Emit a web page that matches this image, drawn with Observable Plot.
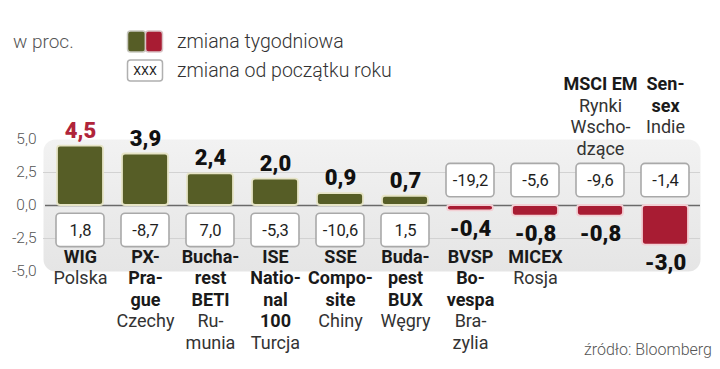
<!DOCTYPE html>
<html>
<head>
<meta charset="utf-8">
<script src="https://cdn.jsdelivr.net/npm/d3@7"></script>
<script src="https://cdn.jsdelivr.net/npm/@observablehq/plot@0.6"></script>
<style>
  html, body { margin: 0; padding: 0; background: #fff; }
  #wrap { position: relative; width: 720px; height: 369px; font-family: Roboto, sans-serif; overflow: hidden; }
  #wrap svg.plot { position: absolute; left: 0; top: 0; }
  .lg { position: absolute; white-space: nowrap; line-height: 1; }
</style>
</head>
<body>
<div id="wrap"></div>
<script>
// ---- data ----
const ids = ["WIG", "PX", "BETI", "ISE", "SSE", "BUX", "BVSP", "MICEX", "MSCI", "SENSEX"];
const nameLines = ["WIG", "PX-|Pra-|gue", "Bucha-|rest|BETI", "ISE|Natio-|nal|100", "SSE|Compo-|site", "Buda-|pest|BUX", "BVSP|Bo-|vespa", "MICEX", "MSCI EM", "Sen-|sex"];
const countryLines = ["Polska", "Czechy", "Ru-|munia", "Turcja", "Chiny", "Węgry", "Bra-|zylia", "Rosja", "Rynki|Wscho-|dzące", "Indie"];
const labelAbove = [false, false, false, false, false, false, false, false, true, true];
const weekly = [4.5, 3.9, 2.4, 2.0, 0.9, 0.7, -0.4, -0.8, -0.8, -3.0];
const ytd = [1.8, -8.7, 7.0, -5.3, -10.6, 1.5, -19.2, -5.6, -9.6, -1.4];
const highlightId = "WIG";
const yTicks = [5, 2.5, 0, -2.5, -5];
const gridValues = [2.5, -2.5];

// ---- styling ----
const green = "#565d26", red = "#a81c33", hlRed = "#b0243a";
const fmt = v => v.toFixed(1).replace(".", ",");
const boxNear = 0.62, boxFar = 3.15;

const rows = ids.map((id, i) => ({id, week: weekly[i], ytd: ytd[i]}));
const pos = rows.filter(d => d.week > 0);
const neg = rows.filter(d => d.week <= 0);
const lines = ids.flatMap((id, i) => {
  const b = nameLines[i].split("|").map(t => ({t, bold: true}));
  const c = countryLines[i].split("|").map(t => ({t, bold: false}));
  return [...b, ...c].map((l, r) => ({id, text: l.t, bold: l.bold, row: r, above: labelAbove[i]}));
});

const labelMarks = [];
for (const above of [false, true]) {
  for (const bold of [true, false]) {
    for (let r = 0; r < 6; r++) {
      const data = lines.filter(l => l.above === above && l.bold === bold && l.row === r);
      if (!data.length) continue;
      labelMarks.push(Plot.text(data, {
        x: "id", text: "text",
        frameAnchor: above ? "top" : "bottom",
        dy: above ? -62 + r * 21.5 : -9 + r * 21.5,
        fontSize: 18,
        fontWeight: bold ? "bold" : "normal",
        fill: bold ? "#1a1a1a" : "#333"
      }));
    }
  }
}

const chart = Plot.plot({
  width: 720,
  height: 369,
  marginLeft: 43,
  marginRight: 20,
  marginTop: 139,
  marginBottom: 98,
  style: {fontFamily: "Roboto, sans-serif", background: "transparent", overflow: "visible"},
  x: {type: "band", domain: ids, range: [45.3, 699.3], paddingInner: 0.3, paddingOuter: 0.15, axis: null},
  y: {domain: [-5, 5], range: [271, 139], axis: null},
  marks: [
    Plot.frame({fill: "url(#panelGrad)", stroke: "none", rx: 12}),
    Plot.ruleY(gridValues, {stroke: "#d2d2d2", strokeWidth: 1}),
    Plot.ruleY([0], {stroke: "#6a6a6a", strokeWidth: 1.3, insetLeft: 2}),
    Plot.axisY(yTicks, {anchor: "left", tickSize: 0, tickPadding: 7, tickFormat: fmt, fontSize: 15.5, fontWeight: 300, fill: "#555", label: null}),
    // weekly bars
    Plot.barY(pos, {x: "id", y: "week", fill: green, stroke: "#e6e4c6", strokeWidth: 1.8, rx: 3}),
    Plot.barY(neg, {x: "id", y: "week", fill: red, stroke: "#f2cfd4", strokeWidth: 1.8, rx: 3}),
    // year-to-date boxes
    Plot.barY(rows, {
      x: "id",
      y1: d => d.week > 0 ? -boxNear : boxNear,
      y2: d => d.week > 0 ? -boxFar : boxFar,
      fill: "#fff", stroke: "#a9a9a9", strokeWidth: 1.6, rx: 4, insetLeft: -1, insetRight: -1
    }),
    Plot.text(rows, {
      x: "id",
      y: d => d.week > 0 ? -(boxNear + boxFar) / 2 : (boxNear + boxFar) / 2,
      text: d => fmt(d.ytd),
      fontSize: 16.5, fill: "#1e1e1e"
    }),
    // weekly value labels
    Plot.text(pos, {
      x: "id", y: "week", dy: -15.5, text: d => fmt(d.week),
      fontSize: 22, fontWeight: 900, fill: d => d.id === highlightId ? hlRed : "#111"
    }),
    Plot.text(neg, {
      x: "id", y: "week", dy: 18, text: d => fmt(d.week),
      fontSize: 22, fontWeight: 900, fill: "#111"
    }),
    ...labelMarks
  ]
});
chart.classList.add("plot");
d3.select(chart).insert("defs", ":first-child").html(
  '<linearGradient id="panelGrad" x1="0" y1="0" x2="0" y2="1">' +
  '<stop offset="0" stop-color="#f2f2f2"/><stop offset="1" stop-color="#e5e5e5"/></linearGradient>'
);

const wrap = document.getElementById("wrap");
wrap.appendChild(chart);

// ---- legend & source (HTML) ----
wrap.insertAdjacentHTML("beforeend", `
  <div class="lg" style="left:13px; top:32px; font-size:19px; font-weight:300; color:#555;">w proc.</div>
  <svg class="lg" style="left:125px; top:29px;" width="42" height="26">
    <rect x="2.5" y="2" width="18" height="21" rx="3" fill="${green}" stroke="#c9c9c0" stroke-width="1.5"/>
    <rect x="20.5" y="2" width="17" height="21" rx="3" fill="${red}" stroke="#d9c3c6" stroke-width="1.5"/>
  </svg>
  <div class="lg" style="left:177px; top:32px; font-size:19.5px; font-weight:300; color:#333;">zmiana tygodniowa</div>
  <svg class="lg" style="left:125px; top:58px;" width="42" height="26">
    <rect x="2.5" y="2" width="35" height="21" rx="3" fill="#fff" stroke="#b0b0b0" stroke-width="1.5"/>
    <text x="20" y="17" text-anchor="middle" font-size="12.5" font-family="Roboto, sans-serif" fill="#222">XXX</text>
  </svg>
  <div class="lg" style="left:177px; top:61px; font-size:19.5px; font-weight:300; color:#333;">zmiana od początku roku</div>
  <div class="lg" style="right:8px; top:342px; font-size:16px; font-weight:300; color:#555;">źródło: Bloomberg</div>
`);
</script>
</body>
</html>
